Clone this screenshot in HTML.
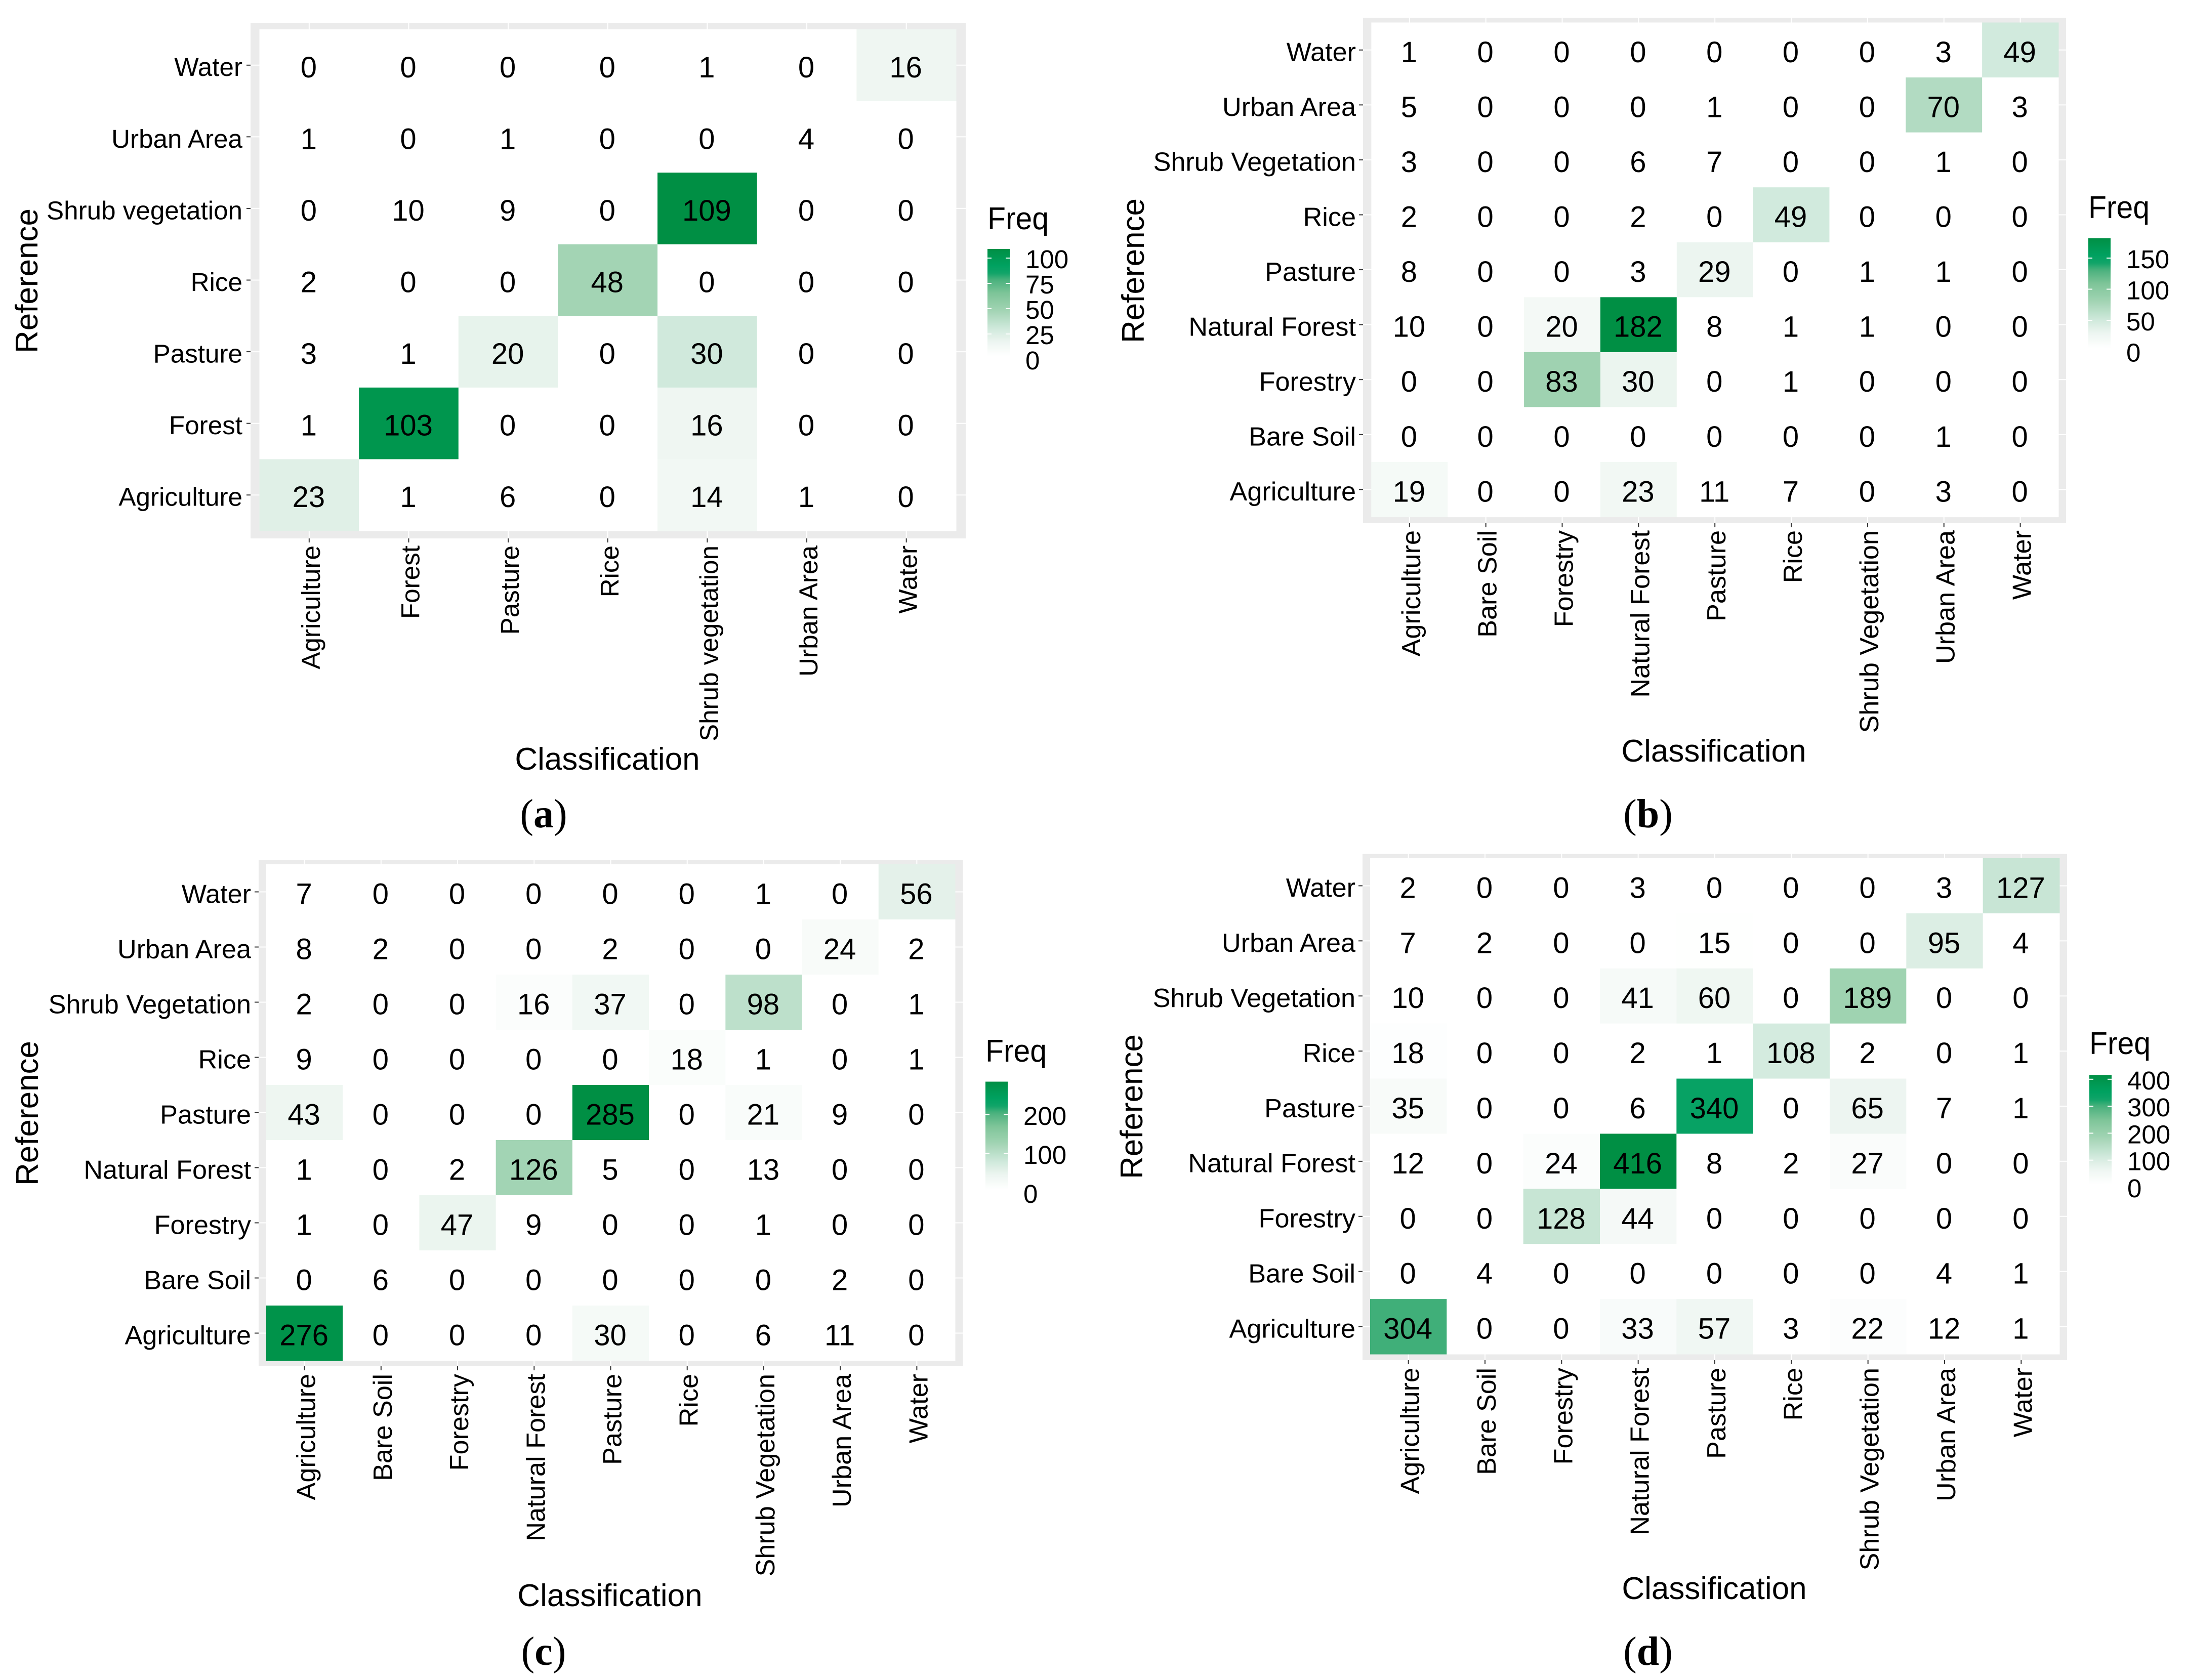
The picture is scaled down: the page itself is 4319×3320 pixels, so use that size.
<!DOCTYPE html>
<html lang="en">
<head>
<meta charset="utf-8">
<title>Confusion matrices (a)-(d)</title>
<style>
html,body{margin:0;padding:0;background:#fff;}
svg{display:block;}
text{font-family:"Liberation Sans",sans-serif;fill:#000;}
.cap{font-family:"Liberation Serif",serif;}
</style>
</head>
<body>
<svg id="fig" xmlns="http://www.w3.org/2000/svg" width="4319" height="3320" viewBox="0 0 4319 3320"></svg>
<script>
const colsA = ["Agriculture","Forest","Pasture","Rice","Shrub vegetation","Urban Area","Water"];
const rowsA = ["Water","Urban Area","Shrub vegetation","Rice","Pasture","Forest","Agriculture"];
const valuesA = [
  [0,0,0,0,1,0,16],
  [1,0,1,0,0,4,0],
  [0,10,9,0,109,0,0],
  [2,0,0,48,0,0,0],
  [3,1,20,0,30,0,0],
  [1,103,0,0,16,0,0],
  [23,1,6,0,14,1,0]
];
const legendTicksA = [100,75,50,25,0];

const colsB = ["Agriculture","Bare Soil","Forestry","Natural Forest","Pasture","Rice","Shrub Vegetation","Urban Area","Water"];
const rowsB = ["Water","Urban Area","Shrub Vegetation","Rice","Pasture","Natural Forest","Forestry","Bare Soil","Agriculture"];
const valuesB = [
  [1,0,0,0,0,0,0,3,49],
  [5,0,0,0,1,0,0,70,3],
  [3,0,0,6,7,0,0,1,0],
  [2,0,0,2,0,49,0,0,0],
  [8,0,0,3,29,0,1,1,0],
  [10,0,20,182,8,1,1,0,0],
  [0,0,83,30,0,1,0,0,0],
  [0,0,0,0,0,0,0,1,0],
  [19,0,0,23,11,7,0,3,0]
];
const legendTicksB = [150,100,50,0];

const colsC = ["Agriculture","Bare Soil","Forestry","Natural Forest","Pasture","Rice","Shrub Vegetation","Urban Area","Water"];
const rowsC = ["Water","Urban Area","Shrub Vegetation","Rice","Pasture","Natural Forest","Forestry","Bare Soil","Agriculture"];
const valuesC = [
  [7,0,0,0,0,0,1,0,56],
  [8,2,0,0,2,0,0,24,2],
  [2,0,0,16,37,0,98,0,1],
  [9,0,0,0,0,18,1,0,1],
  [43,0,0,0,285,0,21,9,0],
  [1,0,2,126,5,0,13,0,0],
  [1,0,47,9,0,0,1,0,0],
  [0,6,0,0,0,0,0,2,0],
  [276,0,0,0,30,0,6,11,0]
];
const legendTicksC = [200,100,0];

const colsD = ["Agriculture","Bare Soil","Forestry","Natural Forest","Pasture","Rice","Shrub Vegetation","Urban Area","Water"];
const rowsD = ["Water","Urban Area","Shrub Vegetation","Rice","Pasture","Natural Forest","Forestry","Bare Soil","Agriculture"];
const valuesD = [
  [2,0,0,3,0,0,0,3,127],
  [7,2,0,0,15,0,0,95,4],
  [10,0,0,41,60,0,189,0,0],
  [18,0,0,2,1,108,2,0,1],
  [35,0,0,6,340,0,65,7,1],
  [12,0,24,416,8,2,27,0,0],
  [0,0,128,44,0,0,0,0,0],
  [0,4,0,0,0,0,0,4,1],
  [304,0,0,33,57,3,22,12,1]
];
const legendTicksD = [400,300,200,100,0];

const svg = document.getElementById('fig');
const NS = 'http://www.w3.org/2000/svg';

/* colour ramp, fraction of the panel maximum to rgb */
const RAMP = [
  [0,255,255,255],[0.03,255,255,255],[0.14,240,247,243],[0.18,232,243,237],
  [0.275,208,233,220],[0.45,160,211,178],[0.6,125,196,152],[0.72,74,177,125],
  [0.78,16,164,104],[0.85,0,161,96],[1,0,143,68]
];
/* counts below this stay white in the reference cells */
const WHITE_BELOW = 14;
function rampColor(t){
  t = Math.max(0, Math.min(1, t));
  for (let i = 1; i < RAMP.length; i++) {
    if (t <= RAMP[i][0]) {
      const a = RAMP[i-1], b = RAMP[i], f = (t - a[0]) / (b[0] - a[0]);
      return 'rgb(' + [1,2,3].map(k => Math.round(a[k] + (b[k] - a[k]) * f)).join(',') + ')';
    }
  }
  return 'rgb(0,143,68)';
}
function cellColor(v, maxV){
  return v < WHITE_BELOW ? '#ffffff' : rampColor(v / maxV);
}
function mk(parent, tag, attrs, txt){
  const el = document.createElementNS(NS, tag);
  for (const k in attrs) el.setAttribute(k, attrs[k]);
  if (txt !== undefined) el.textContent = txt;
  parent.appendChild(el);
  return el;
}
function drawPanel(p){
  const g = mk(svg, 'g', {});
  
  
  const nC = p.cols.length, nR = p.rows.length;
  const stepX = (p.ix1 - p.ix0) / nC, stepY = (p.iy1 - p.iy0) / nR;
  const xAxis = c => p.ix0 + stepX * c;
  const yAxis = r => p.iy0 + stepY * r;
  const maxV = Math.max.apply(null, p.values.map(r => Math.max.apply(null, r)));

  const bg = mk(g, 'rect', {x:p.ox0, y:p.oy0, width:p.ox1-p.ox0, height:p.oy1-p.oy0, fill:'#ebebeb'});
  
  

  p.cols.forEach((name, c) => {
    const cx = xAxis(c + 0.5);
    const grid = mk(g, 'line', {x1:cx, x2:cx, y1:p.oy0, y2:p.oy1, stroke:'#fff', 'stroke-width':2});
    
    
    const tick = mk(g, 'line', {x1:cx, x2:cx, y1:p.oy1, y2:p.oy1+8, stroke:'#333', 'stroke-width':2});
    
    
    const bx = cx + p.xLabelDx, by = p.xLabelTop;
    const lab = mk(g, 'text', {x:bx, y:by, 'font-size':p.tickSize, 'text-anchor':'end', transform:'rotate(-90 '+bx+' '+by+')'}, name);
    
    
  });
  p.rows.forEach((name, r) => {
    const cy = yAxis(r + 0.5);
    const grid = mk(g, 'line', {x1:p.ox0, x2:p.ox1, y1:cy, y2:cy, stroke:'#fff', 'stroke-width':2});
    
    
    const tick = mk(g, 'line', {x1:p.ox0-8, x2:p.ox0, y1:cy, y2:cy, stroke:'#333', 'stroke-width':2});
    
    
    const lab = mk(g, 'text', {x:p.labelRight, y:cy + p.tickSize*0.36 + 3, 'font-size':p.tickSize, 'text-anchor':'end'}, name);
    
    
  });

  const inner = mk(g, 'rect', {x:p.ix0, y:p.iy0, width:p.ix1-p.ix0, height:p.iy1-p.iy0, fill:'#fff'});
  
  

  p.values.forEach((row, r) => {
    row.forEach((v, c) => {
      const cell = mk(g, 'rect', {x:xAxis(c), y:yAxis(r), width:stepX+0.5, height:stepY+0.5, fill:cellColor(v, maxV)});
      
      
    });
  });
  p.values.forEach((row, r) => {
    row.forEach((v, c) => {
      const t = mk(g, 'text', {x:xAxis(c+0.5)-1, y:yAxis(r+0.5)+24, 'font-size':58, 'text-anchor':'middle'}, String(v));
      
      
    });
  });

  const xt = mk(g, 'text', {x:p.titleX, y:p.titleY, 'font-size':62, 'text-anchor':'middle'}, 'Classification');
  
  
  const yt = mk(g, 'text', {x:p.refX, y:p.refY, 'font-size':62, 'text-anchor':'middle', transform:'rotate(-90 '+p.refX+' '+p.refY+')'}, 'Reference');
  
  

  /* legend */
  const legY = v => p.legZero - p.legUnit * v;
  const lg = mk(g, 'g', {});
  
  
  const ft = mk(lg, 'text', {x:p.barX, y:p.freqY, 'font-size':62, textLength:121, lengthAdjust:'spacingAndGlyphs'}, 'Freq');
  
  
  const gradId = 'ramp-' + p.id;
  const defs = mk(lg, 'defs', {});
  const grad = mk(defs, 'linearGradient', {id:gradId, x1:0, y1:0, x2:0, y2:1});
  for (let i = 0; i <= 40; i++) {
    mk(grad, 'stop', {offset:(i/40), 'stop-color':rampColor(1 - i/40)});
  }
  const bar = mk(lg, 'rect', {x:p.barX, y:legY(maxV), width:44, height:legY(0)-legY(maxV), fill:'url(#'+gradId+')'});
  
  
  p.legendTicks.forEach(v => {
    const y = legY(v);
    const m1 = mk(lg, 'line', {x1:p.barX, x2:p.barX+8, y1:y, y2:y, stroke:'#fff', 'stroke-width':2});
    
    
    const m2 = mk(lg, 'line', {x1:p.barX+36, x2:p.barX+44, y1:y, y2:y, stroke:'#fff', 'stroke-width':2});
    
    
    const t = mk(lg, 'text', {x:p.barX+75, y:y+20, 'font-size':51}, String(v));
    
    
  });

  /* caption */
  const cap = mk(g, 'text', {x:p.capX, y:p.capY, 'font-size':80, 'text-anchor':'middle', 'class':'cap'});
  
  
  mk(cap, 'tspan', {}, '(');
  mk(cap, 'tspan', {'font-weight':'bold'}, p.id);
  mk(cap, 'tspan', {}, ')');
}

drawPanel({id:'a', cols:colsA, rows:rowsA, values:valuesA, legendTicks:legendTicksA,
  ox0:495, ox1:1908, oy0:45.5, oy1:1064, ix0:512.5, ix1:1889, iy0:58, iy1:1049,
  tickSize:51.2, labelRight:479, xLabelTop:1078, xLabelDx:21,
  titleX:1200, titleY:1521, refX:74, refY:555, capX:1074, capY:1635,
  barX:1951, freqY:453, legZero:710, legUnit:2.0});
drawPanel({id:'b', cols:colsB, rows:rowsB, values:valuesB, legendTicks:legendTicksB,
  ox0:2693, ox1:4082, oy0:35, oy1:1034, ix0:2709.4, ix1:4067, iy0:44.5, iy1:1021.6,
  tickSize:52.2, labelRight:2679, xLabelTop:1048, xLabelDx:21,
  titleX:3386, titleY:1505, refX:2260, refY:535, capX:3256, capY:1635,
  barX:4126, freqY:431, legZero:694.5, legUnit:1.23});
drawPanel({id:'c', cols:colsC, rows:rowsC, values:valuesC, legendTicks:legendTicksC,
  ox0:511, ox1:1902.5, oy0:1699, oy1:2700, ix0:526, ix1:1887, iy0:1708, iy1:2689,
  tickSize:52.2, labelRight:496, xLabelTop:2715, xLabelDx:21,
  titleX:1205, titleY:3174, refX:75, refY:2200, capX:1074, capY:3290,
  barX:1947, freqY:2098, legZero:2357, legUnit:0.77});
drawPanel({id:'d', cols:colsD, rows:rowsD, values:valuesD, legendTicks:legendTicksD,
  ox0:2692, ox1:4084, oy0:1687.5, oy1:2688, ix0:2707, ix1:4069, iy0:1696, iy1:2676,
  tickSize:52.2, labelRight:2678, xLabelTop:2703, xLabelDx:21,
  titleX:3387, titleY:3160, refX:2257, refY:2187, capX:3256, capY:3290,
  barX:4128, freqY:2083, legZero:2346, legUnit:0.533});
</script>
</body>
</html>
